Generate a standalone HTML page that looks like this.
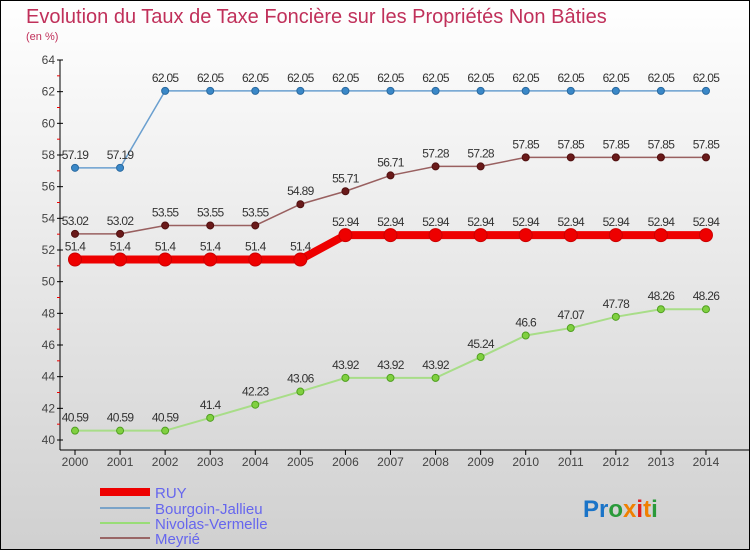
<!DOCTYPE html>
<html><head><meta charset="utf-8"><style>
body{margin:0;width:750px;height:550px;overflow:hidden}
svg{display:block;font-family:"Liberation Sans",sans-serif}
</style></head><body>
<svg id="c" width="750" height="550">
<defs><linearGradient id="bg" x1="0" y1="0" x2="0" y2="1"><stop offset="0" stop-color="#ffffff"/><stop offset="1" stop-color="#d0d0d0"/></linearGradient></defs>
<rect width="750" height="550" fill="url(#bg)"/>
<rect x="0.5" y="0.5" width="749" height="549" fill="none" stroke="#000"/>
<text x="26" y="23" font-size="20" fill="#c0305a">Evolution du Taux de Taxe Foncière sur les Propriétés Non Bâties</text>
<text x="26" y="40" font-size="11" fill="#c0305a">(en %)</text>
<g id="axes"></g><g id="series"></g>
<g>
<line x1="100" y1="492" x2="150" y2="492" stroke="#ee0000" stroke-width="8"/>
<text x="155" y="498" font-size="15" fill="#6666ee">RUY</text>
<line x1="100" y1="508" x2="150" y2="508" stroke="#7aa3c8" stroke-width="2"/>
<text x="155" y="514" font-size="15" fill="#6666ee">Bourgoin-Jallieu</text>
<line x1="100" y1="523" x2="150" y2="523" stroke="#99dd77" stroke-width="2"/>
<text x="155" y="529" font-size="15" fill="#6666ee">Nivolas-Vermelle</text>
<line x1="100" y1="538" x2="150" y2="538" stroke="#996666" stroke-width="2"/>
<text x="155" y="544" font-size="15" fill="#6666ee">Meyrié</text>
</g>
<text x="583" y="517" font-size="24" font-weight="bold"><tspan fill="#1a74c8">Pr</tspan><tspan fill="#2a9a3a">o</tspan><tspan fill="#f08000">x</tspan><tspan fill="#e02020">i</tspan><tspan fill="#f08000">t</tspan><tspan fill="#2a9a3a">i</tspan></text>
</svg>
<script>
const years=[2000,2001,2002,2003,2004,2005,2006,2007,2008,2009,2010,2011,2012,2013,2014];
const ruy=[51.4,51.4,51.4,51.4,51.4,51.4,52.94,52.94,52.94,52.94,52.94,52.94,52.94,52.94,52.94];
const bourgoin=[57.19,57.19,62.05,62.05,62.05,62.05,62.05,62.05,62.05,62.05,62.05,62.05,62.05,62.05,62.05];
const nivolas=[40.59,40.59,40.59,41.4,42.23,43.06,43.92,43.92,43.92,45.24,46.6,47.07,47.78,48.26,48.26];
const meyrie=[53.02,53.02,53.55,53.55,53.55,54.89,55.71,56.71,57.28,57.28,57.85,57.85,57.85,57.85,57.85];
const yTicks=[40,42,44,46,48,50,52,54,56,58,60,62,64];
const NS="http://www.w3.org/2000/svg";
const X=i=>75+i*45.07, Y=v=>60+(64-v)*(380/24);
function mk(p,t,a){const e=document.createElementNS(NS,t);for(const k in a)e.setAttribute(k,a[k]);p.appendChild(e);return e;}
const ax=document.getElementById('axes'), sg=document.getElementById('series');
let e=mk(ax,'line',{x1:60,y1:60,x2:60,y2:450,stroke:'#000'});


e=mk(ax,'line',{x1:60,y1:450,x2:750,y2:450,stroke:'#000'});


yTicks.forEach(v=>{
  mk(ax,'line',{x1:57,y1:Y(v),x2:63,y2:Y(v),stroke:'#000'});
  if(v<64) mk(ax,'line',{x1:57,y1:Y(v+1),x2:60,y2:Y(v+1),stroke:'#e00'});
  const t=mk(ax,'text',{x:55,y:Y(v)+4,'font-size':12,'text-anchor':'end',fill:'#444'});
  t.textContent=v;
  
  
});
years.forEach((y,i)=>{
  mk(ax,'line',{x1:X(i),y1:450,x2:X(i),y2:455,stroke:'#000'});
  const t=mk(ax,'text',{x:X(i),y:466,'font-size':12,'text-anchor':'middle',fill:'#444'});
  t.textContent=y;
  
  
});
function series(data,name,color,w,r,dot,stroke){
  const g=mk(sg,'g',{});
  
  
  const l=mk(g,'polyline',{points:data.map((v,i)=>X(i)+','+Y(v)).join(' '),fill:'none',stroke:color,'stroke-width':w});
  
  
  data.forEach((v,i)=>{
    const c=mk(g,'circle',{cx:X(i),cy:Y(v),r:r,fill:dot,stroke:stroke,'stroke-width':1});
    
    
    const t=mk(g,'text',{x:X(i),y:Y(v)-9,'font-size':12,'text-anchor':'middle',fill:'#333','letter-spacing':'-0.7'});
    t.textContent=v;
    
    
  });
}
series(bourgoin,'bourgoin','#6a9fcf',1.5,3.5,'#3a88c8','#2a6aa0');
series(meyrie,'meyrie','#996060',1.5,3.5,'#6a1a1a','#501010');
series(nivolas,'nivolas','#a8dd88',2,3.5,'#80d040','#50a020');
series(ruy,'ruy','#ee0000',8,6.5,'#ee0000','#cc0000');
</script>
</body></html>
